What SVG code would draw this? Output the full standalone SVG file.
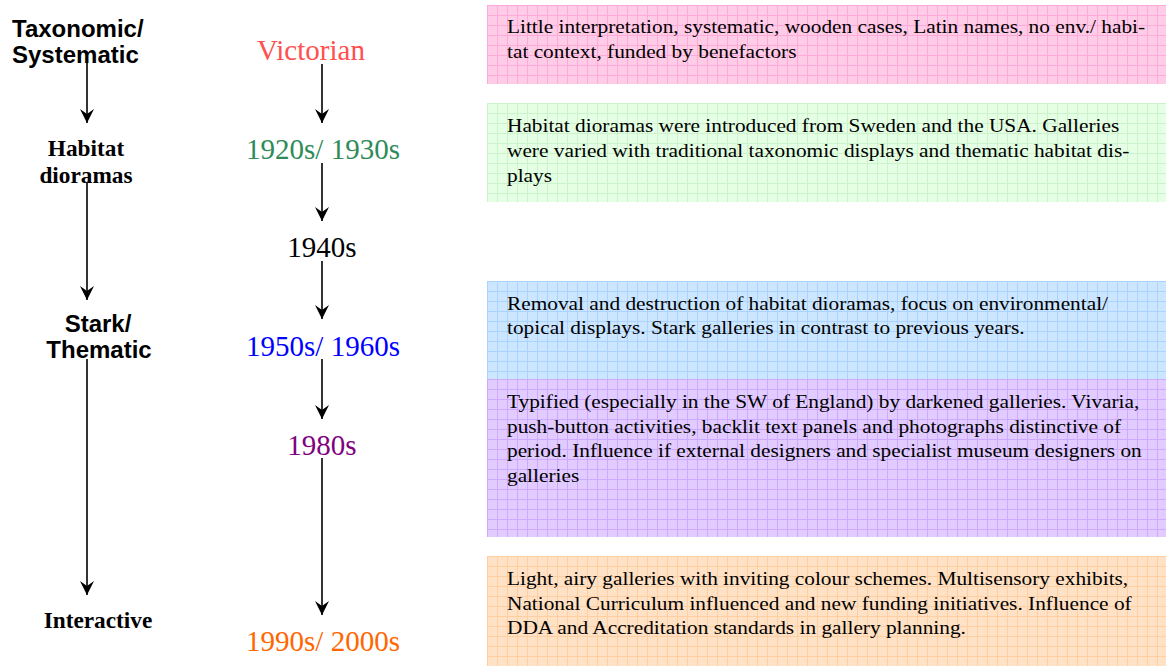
<svg xmlns="http://www.w3.org/2000/svg" width="1166" height="666" viewBox="0 0 1166 666">
<defs>
<marker id="ah" viewBox="-15 -8 16 16" markerWidth="16" markerHeight="16" refX="0" refY="0" orient="auto" markerUnits="userSpaceOnUse">
<path d="M0,0 L-14,-7 L-9,0 L-14,7 Z" fill="#000"/>
</marker>
<pattern id="pPink" patternUnits="userSpaceOnUse" x="487" y="5" width="10" height="10"><rect width="10" height="10" fill="#ffcce8"/><path d="M0,0.5 H10 M0.5,0 V10" stroke="#ffaad8" stroke-width="1"/></pattern>
<pattern id="pGreen" patternUnits="userSpaceOnUse" x="487" y="3" width="10" height="10"><rect width="10" height="10" fill="#e4ffe4"/><path d="M0,0.5 H10 M0.5,0 V10" stroke="#cdf3cd" stroke-width="1"/></pattern>
<pattern id="pBlue" patternUnits="userSpaceOnUse" x="487" y="1" width="10" height="10"><rect width="10" height="10" fill="#cce6ff"/><path d="M0,0.5 H10 M0.5,0 V10" stroke="#aad4ff" stroke-width="1"/></pattern>
<pattern id="pPurple" patternUnits="userSpaceOnUse" x="487" y="9" width="10" height="10"><rect width="10" height="10" fill="#e2ccff"/><path d="M0,0.5 H10 M0.5,0 V10" stroke="#cdaaff" stroke-width="1"/></pattern>
<pattern id="pOrange" patternUnits="userSpaceOnUse" x="487" y="6" width="10" height="10"><rect width="10" height="10" fill="#ffe2c6"/><path d="M0,0.5 H10 M0.5,0 V10" stroke="#ffcfa2" stroke-width="1"/></pattern>
</defs>
<style>
.sansb{font-family:"Liberation Sans",Arial,sans-serif;font-weight:bold;font-size:24px;fill:#000}
.serifb{font-family:"Liberation Serif","Times New Roman",serif;font-weight:bold;font-size:23.3px;fill:#000}
.era{font-family:"Liberation Serif","Times New Roman",serif;font-size:29px;text-anchor:middle}
.desc{font-family:"Liberation Serif","Times New Roman",serif;font-size:19px;fill:#000}
.conn{stroke:#000;stroke-width:1.6;fill:none;marker-end:url(#ah)}
</style>
<rect width="1166" height="666" fill="#fff"/>

<g id="desc-victorian">
<rect x="487" y="5" width="679" height="79" fill="url(#pPink)"/>
<g transform="translate(507,0) scale(1.123,1)">
<text class="desc" x="0" y="33">Little interpretation, systematic, wooden cases, Latin names, no env./ habi-</text>
<text class="desc" x="0" y="58">tat context, funded by benefactors</text>
</g>
</g>
<g id="desc-1920s">
<rect x="487" y="103" width="679" height="99" fill="url(#pGreen)"/>
<g transform="translate(507,0) scale(1.123,1)">
<text class="desc" x="0" y="132">Habitat dioramas were introduced from Sweden and the USA. Galleries</text>
<text class="desc" x="0" y="157">were varied with traditional taxonomic displays and thematic habitat dis-</text>
<text class="desc" x="0" y="182">plays</text>
</g>
</g>
<g id="desc-1950s">
<rect x="487" y="281" width="679" height="98" fill="url(#pBlue)"/>
<g transform="translate(507,0) scale(1.123,1)">
<text class="desc" x="0" y="310">Removal and destruction of habitat dioramas, focus on environmental/</text>
<text class="desc" x="0" y="334">topical displays. Stark galleries in contrast to previous years.</text>
</g>
</g>
<g id="desc-1980s">
<rect x="487" y="379" width="679" height="158" fill="url(#pPurple)"/>
<g transform="translate(507,0) scale(1.123,1)">
<text class="desc" x="0" y="408">Typified (especially in the SW of England) by darkened galleries. Vivaria,</text>
<text class="desc" x="0" y="433">push-button activities, backlit text panels and photographs distinctive of</text>
<text class="desc" x="0" y="457">period. Influence if external designers and specialist museum designers on</text>
<text class="desc" x="0" y="482">galleries</text>
</g>
</g>
<g id="desc-1990s">
<rect x="487" y="556" width="679" height="110" fill="url(#pOrange)"/>
<g transform="translate(507,0) scale(1.123,1)">
<text class="desc" x="0" y="585">Light, airy galleries with inviting colour schemes. Multisensory exhibits,</text>
<text class="desc" x="0" y="610">National Curriculum influenced and new funding initiatives. Influence of</text>
<text class="desc" x="0" y="634">DDA and Accreditation standards in gallery planning.</text>
</g>
</g>

<g id="connectors">
<line class="conn" x1="87" y1="61" x2="87" y2="123"/>
<line class="conn" x1="87" y1="182" x2="87" y2="300"/>
<line class="conn" x1="87" y1="359" x2="87" y2="595"/>
<line class="conn" x1="322" y1="64" x2="322" y2="123"/>
<line class="conn" x1="322" y1="163" x2="322" y2="221"/>
<line class="conn" x1="322" y1="261" x2="322" y2="319"/>
<line class="conn" x1="322" y1="359" x2="322" y2="419"/>
<line class="conn" x1="322" y1="458" x2="322" y2="615"/>
</g>

<g id="style-taxonomic">
<text class="sansb" x="12" y="37">Taxonomic/</text>
<text class="sansb" x="12" y="63">Systematic</text>
</g>
<g id="style-habitat">
<text class="serifb" x="86" y="156" text-anchor="middle">Habitat</text>
<text class="serifb" x="86" y="183" text-anchor="middle">dioramas</text>
</g>
<g id="style-stark">
<text class="sansb" x="98" y="332" text-anchor="middle">Stark/</text>
<text class="sansb" x="99" y="358" text-anchor="middle">Thematic</text>
</g>
<g id="style-interactive">
<text class="serifb" x="98" y="628" text-anchor="middle">Interactive</text>
</g>

<g id="era-victorian"><text class="era" x="311" y="60" fill="#ff4f4f">Victorian</text></g>
<g id="era-1920s"><text class="era" x="323" y="159" fill="#2e8b57">1920s/ 1930s</text></g>
<g id="era-1940s"><text class="era" x="322" y="257" fill="#000">1940s</text></g>
<g id="era-1950s"><text class="era" x="323" y="356" fill="#0000ff">1950s/ 1960s</text></g>
<g id="era-1980s"><text class="era" x="322" y="455" fill="#800080">1980s</text></g>
<g id="era-1990s"><text class="era" x="323" y="651" fill="#ff6600">1990s/ 2000s</text></g>
</svg>
